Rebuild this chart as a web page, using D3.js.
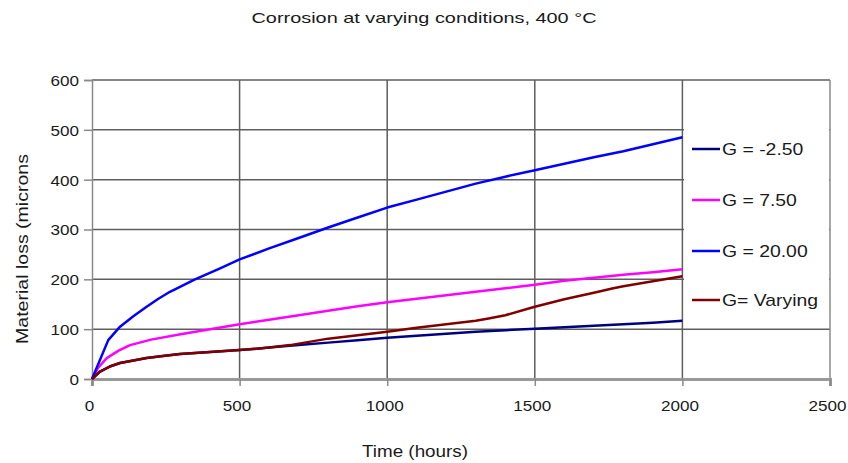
<!DOCTYPE html>
<html>
<head>
<meta charset="utf-8">
<script src="https://cdn.jsdelivr.net/npm/d3@7"></script>
<style>
  body { margin: 0; background: #fff; }
  text { font-family: "Liberation Sans", Arial, sans-serif; fill: #1a1a1a; }
</style>
</head>
<body>
<div id="chart"></div>
<script>
// Chart values
let titleText = "Corrosion at varying conditions, 400 °C";
let xLabelText = "Time (hours)";
let yLabelText = "Material loss (microns";

let xTicks = [0, 500, 1000, 1500, 2000, 2500];
let yTicks = [0, 100, 200, 300, 400, 500, 600];

let seriesNames = ["G = -2.50", "G = 7.50", "G = 20.00", "G= Varying"];
let seriesColors = ["#000080", "#ff00ff", "#0000ff", "#800000"];

// G = -2.50
let hoursNeg = [0, 27, 60, 95, 140, 185, 240, 298, 400, 500, 600, 700, 800, 900, 1000, 1100, 1200, 1300, 1400, 1500, 1600, 1700, 1800, 1900, 2000];
let lossNeg = [0, 15, 25, 32, 37, 42, 46, 50, 54, 58, 63, 68, 73, 78, 83, 87, 91, 95, 98, 101, 104, 107, 110, 113, 117];

// G = 7.50
let hoursMid = [0, 20, 50, 90, 129, 200, 300, 400, 500, 600, 700, 800, 900, 1000, 1100, 1200, 1300, 1400, 1500, 1600, 1700, 1800, 1900, 2000];
let lossMid = [0, 22, 42, 57, 68, 79, 90, 100, 110, 119, 128, 137, 146, 154, 161, 168, 175, 182, 189, 197, 203, 209, 214, 220];

// G = 20.00
let hoursHigh = [0, 55, 95, 140, 185, 225, 264, 349, 434, 500, 600, 700, 800, 900, 1000, 1100, 1200, 1300, 1400, 1500, 1600, 1700, 1800, 1900, 2000];
let lossHigh = [0, 78, 105, 126, 145, 161, 175, 200, 222, 240, 262, 283, 304, 324, 344, 360, 376, 392, 406, 419, 432, 445, 457, 471, 485];

// G = Varying
let hoursVar = [0, 27, 60, 95, 140, 185, 240, 298, 400, 500, 600, 671, 750, 800, 900, 1000, 1100, 1200, 1300, 1348, 1400, 1500, 1600, 1700, 1766, 1800, 1900, 2000];
let lossVar = [0, 15, 25, 32, 37, 42, 46, 50, 54, 58, 63, 68, 76, 81, 88, 95, 103, 110, 117, 122, 128, 145, 160, 173, 182, 186, 196, 206];

let seriesHours = [hoursNeg, hoursMid, hoursHigh, hoursVar];
let seriesLoss = [lossNeg, lossMid, lossHigh, lossVar];

// SVG area
let svgWidth = 848;
let svgHeight = 463;

let margin = { top: 80, right: 18, bottom: 84, left: 92 };
let width = svgWidth - margin.left - margin.right;
let height = svgHeight - margin.top - margin.bottom;

// the source font is wider than Arial
let stretch = 1.14;

let svg = d3.select("#chart")
  .append("svg")
  .attr("width", svgWidth)
  .attr("height", svgHeight)
  .style("background", "#fff");

let chartGroup = svg.append("g")
  .attr("transform", `translate(${margin.left}, ${margin.top})`);

// scales
let xScale = d3.scaleLinear().domain([0, 2500]).range([0, width]);
let yScale = d3.scaleLinear().domain([0, 600]).range([height, 0]);

// widen a text to the source font's width
function widen(sel) {
  sel.each(function () {
    let w = this.getComputedTextLength();
    d3.select(this)
      .attr("textLength", w * stretch)
      .attr("lengthAdjust", "spacingAndGlyphs");
  });
}

// horizontal gridlines
chartGroup.append("g")
  .selectAll("line")
  .data(yTicks.filter((d) => d > 0))
  .enter()
  .append("line")
  .attr("x1", 0)
  .attr("x2", width)
  .attr("y1", (d) => yScale(d))
  .attr("y2", (d) => yScale(d))
  .attr("stroke", "#5e5e5e")
  .attr("stroke-width", 1.5);

// vertical gridlines
chartGroup.append("g")
  .selectAll("line")
  .data(xTicks.filter((d) => d > 0 && d < 2500))
  .enter()
  .append("line")
  .attr("x1", (d) => xScale(d))
  .attr("x2", (d) => xScale(d))
  .attr("y1", 0)
  .attr("y2", height)
  .attr("stroke", "#5e5e5e")
  .attr("stroke-width", 1.5);

// right border
chartGroup.append("line")
  .attr("x1", width).attr("x2", width)
  .attr("y1", 0).attr("y2", height + 6)
  .attr("stroke", "#8a8a8a")
  .attr("stroke-width", 1.5);

// Y axis
let yAxis = chartGroup.append("g")
  .call(d3.axisLeft(yScale).tickValues(yTicks).tickSize(8).tickPadding(5).tickFormat(d3.format("d")));
yAxis.select(".domain").attr("stroke", "#8a8a8a").attr("stroke-width", 1.5);
yAxis.selectAll(".tick line").attr("stroke", "#8a8a8a").attr("stroke-width", 1.5);
yAxis.selectAll("text")
  .attr("font-size", "15px")
  .attr("font-family", "Liberation Sans, Arial, sans-serif")
  .attr("fill", "#1a1a1a")
  .attr("dy", "0.36em")
  .call(widen);

// X axis
let xAxis = chartGroup.append("g")
  .attr("transform", `translate(0, ${height})`)
  .call(d3.axisBottom(xScale).tickValues(xTicks).tickSize(7).tickPadding(14).tickFormat(d3.format("d")));
xAxis.select(".domain").attr("stroke", "#999").attr("stroke-width", 3);
xAxis.selectAll(".tick line").attr("stroke", "#8a8a8a").attr("stroke-width", 1.5);
xAxis.selectAll("text")
  .attr("font-size", "15px")
  .attr("font-family", "Liberation Sans, Arial, sans-serif")
  .attr("fill", "#1a1a1a")
  .attr("dx", "-3")
  .call(widen);

// series lines
let line = d3.line()
  .x((d) => xScale(d[0]))
  .y((d) => yScale(d[1]));

seriesNames.forEach(function (name, i) {
  let pts = seriesHours[i].map((h, j) => [h, seriesLoss[i][j]]);
  chartGroup.append("path")
    .datum(pts)
    .attr("fill", "none")
    .attr("stroke", seriesColors[i])
    .attr("stroke-width", 2.5)
    .attr("stroke-linejoin", "round")
    .attr("d", line);
});

// legend box covers the grid
let legend = svg.append("g");
legend.append("rect")
  .attr("x", 684)
  .attr("y", 125)
  .attr("width", 145)
  .attr("height", 202)
  .attr("fill", "#fff");

let legendY = [149, 200, 251, 300];
seriesNames.forEach(function (name, i) {
  legend.append("line")
    .attr("x1", 692)
    .attr("x2", 720)
    .attr("y1", legendY[i])
    .attr("y2", legendY[i])
    .attr("stroke", seriesColors[i])
    .attr("stroke-width", 2.5);
  legend.append("text")
    .attr("x", 722)
    .attr("y", legendY[i] + 6)
    .attr("font-size", "17px")
    .text(name)
    .call(widen);
});

// title
svg.append("text")
  .attr("x", 424)
  .attr("y", 23)
  .attr("text-anchor", "middle")
  .attr("font-size", "15px")
  .attr("textLength", 345)
  .attr("lengthAdjust", "spacingAndGlyphs")
  .text(titleText);

// x-axis label
svg.append("text")
  .attr("x", 415)
  .attr("y", 457)
  .attr("text-anchor", "middle")
  .attr("font-size", "16px")
  .attr("textLength", 106)
  .attr("lengthAdjust", "spacingAndGlyphs")
  .text(xLabelText);

// y-axis label
svg.append("text")
  .attr("transform", "translate(28, 249) rotate(-90)")
  .attr("text-anchor", "middle")
  .attr("font-size", "16px")
  .attr("textLength", 190)
  .attr("lengthAdjust", "spacingAndGlyphs")
  .text(yLabelText);
</script>
</body>
</html>
